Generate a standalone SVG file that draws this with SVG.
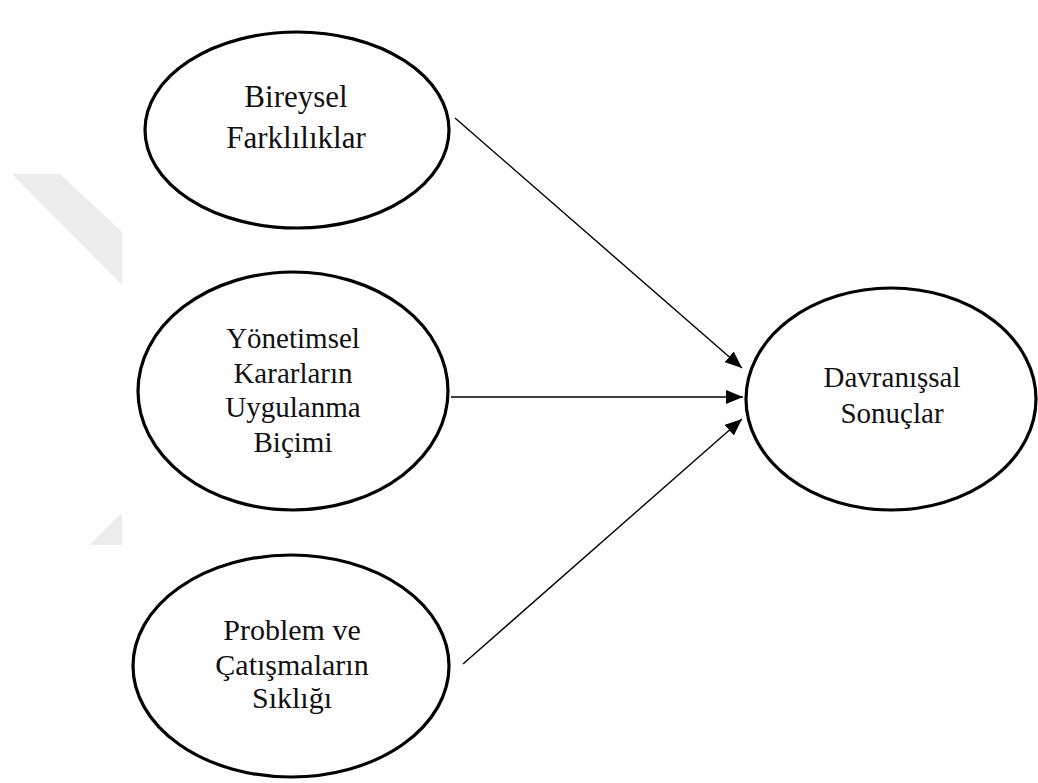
<svg xmlns="http://www.w3.org/2000/svg" width="1038" height="783" viewBox="0 0 1038 783">
<style>
.node{fill:#fff;stroke:#000;stroke-width:3.2}
.lbl{font-family:"Liberation Serif","Times New Roman",serif;font-size:30px;fill:#111;text-anchor:middle}
.edge{stroke:#000;stroke-width:1.4;fill:none;marker-end:url(#ah)}
.wm{fill:#ececec}
</style>
<defs>
<marker id="ah" markerUnits="userSpaceOnUse" markerWidth="18" markerHeight="14" refX="17" refY="7" orient="auto">
<path d="M0,0 L17,7 L0,14 Z" fill="#000"/>
</marker>
</defs>
<g id="watermark">
<polygon class="wm" points="12,174 60,174 122,232 122,285"/>
<polygon class="wm" points="90,545 122,513 122,545"/>
</g>
<g id="connectors">
<line class="edge" x1="455" y1="118" x2="742" y2="368"/>
<line class="edge" x1="451" y1="397" x2="743" y2="397"/>
<line class="edge" x1="463" y1="664" x2="742" y2="419"/>
</g>
<g id="n1">
<ellipse class="node" cx="297" cy="130" rx="152" ry="98"/>
<text class="lbl" style="font-size:31px" x="296" y="107">Bireysel</text>
<text class="lbl" style="font-size:31px" x="296" y="148">Farklılıklar</text>
</g>
<g id="n2">
<ellipse class="node" cx="293" cy="391" rx="155" ry="119"/>
<text class="lbl" style="font-size:29px" x="293" y="348">Yönetimsel</text>
<text class="lbl" style="font-size:29px" x="293" y="383">Kararların</text>
<text class="lbl" style="font-size:29px" x="293" y="417">Uygulanma</text>
<text class="lbl" style="font-size:29px" x="293" y="452">Biçimi</text>
</g>
<g id="n3">
<ellipse class="node" cx="291" cy="666" rx="158" ry="111"/>
<text class="lbl" x="292" y="640">Problem ve</text>
<text class="lbl" x="292" y="675">Çatışmaların</text>
<text class="lbl" x="292" y="708">Sıklığı</text>
</g>
<g id="n4">
<ellipse class="node" cx="891" cy="399" rx="145" ry="111"/>
<text class="lbl" style="font-size:29px" x="892" y="387">Davranışsal</text>
<text class="lbl" style="font-size:29px" x="892" y="423">Sonuçlar</text>
</g>
</svg>
